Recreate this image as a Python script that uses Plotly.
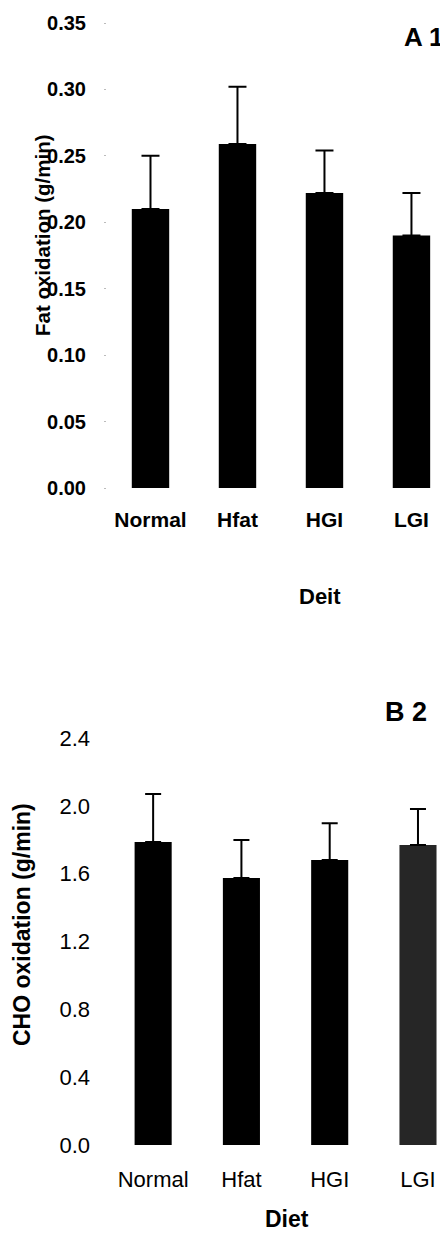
import plotly.graph_objects as go

# ---- data ----
categories = ["Normal", "Hfat", "HGI", "LGI"]
fat_mean = [0.210, 0.259, 0.222, 0.190]
fat_sem = [0.040, 0.043, 0.032, 0.032]
cho_mean = [1.787, 1.574, 1.680, 1.769]
cho_sem = [0.283, 0.224, 0.218, 0.212]
fat_ticks = [0.00, 0.05, 0.10, 0.15, 0.20, 0.25, 0.30, 0.35]
cho_ticks = [0.0, 0.4, 0.8, 1.2, 1.6, 2.0, 2.4]

# page body has an 8px default margin; compensate so the visible window matches
OFF = 8
W, H = 448 - OFF, 1236 - OFF
FONT = "Arial, 'Liberation Sans', sans-serif"

def px_y(p):
    return 1 - (p - OFF) / H

def px_x(p):
    return (p - OFF) / W

fig = go.Figure()

fig.add_trace(go.Bar(
    x=categories, y=fat_mean, xaxis="x", yaxis="y",
    marker=dict(color="#000000", line=dict(width=0)),
    width=0.43,
    error_y=dict(type="data", array=fat_sem, arrayminus=[0] * len(fat_sem),
                 symmetric=False, color="#000000", thickness=2, width=9),
    showlegend=False,
))

fig.add_trace(go.Bar(
    x=categories, y=cho_mean, xaxis="x2", yaxis="y2",
    marker=dict(color=["#000000", "#000000", "#000000", "#262626"], line=dict(width=0)),
    width=0.42,
    error_y=dict(type="data", array=cho_sem, arrayminus=[0] * len(cho_sem),
                 symmetric=False, color="#000000", thickness=2, width=8),
    showlegend=False,
))

fig.update_layout(
    width=W, height=H,
    margin=dict(l=0, r=0, t=0, b=0, pad=0, autoexpand=False),
    paper_bgcolor="white", plot_bgcolor="white",
    font=dict(family=FONT, color="#000000"),
    xaxis=dict(domain=[px_x(107), 1], range=[-0.5, 3.42], anchor="y", automargin=False,
               showline=False, showgrid=False, zeroline=False, ticks="",
               tickfont=dict(size=21, weight="bold"), ticklabelstandoff=17),
    yaxis=dict(domain=[px_y(488), px_y(23)], range=[0, 0.35], anchor="x", automargin=False,
               tickvals=fat_ticks, tickformat=".2f",
               showline=False, showgrid=False, zeroline=False,
               ticks="outside", ticklen=2, tickcolor="#bbbbbb",
               tickfont=dict(size=20, weight="bold"), ticklabelstandoff=14),
    xaxis2=dict(domain=[px_x(109), 1], range=[-0.5, 3.34], anchor="y2", automargin=False,
                showline=False, showgrid=False, zeroline=False, ticks="",
                tickfont=dict(size=22), ticklabelstandoff=19),
    yaxis2=dict(domain=[px_y(1145), px_y(738)], range=[0, 2.4], anchor="x2", automargin=False,
                tickvals=cho_ticks, tickformat=".1f",
                showline=False, showgrid=False, zeroline=False, ticks="",
                tickfont=dict(size=22), ticklabelstandoff=18),
)

ann = [
    dict(text="A 1", x=px_x(402), y=px_y(37), xanchor="left", yanchor="middle",
         font=dict(size=26, weight="bold")),
    dict(text="B 2", x=px_x(383), y=px_y(712), xanchor="left", yanchor="middle",
         font=dict(size=27, weight="bold")),
    dict(text="Fat oxidation (g/min)", x=px_x(43), y=px_y(235), textangle=-90,
         xanchor="center", yanchor="middle", font=dict(size=20.5, weight="bold")),
    dict(text="CHO oxidation (g/min)", x=px_x(22), y=px_y(925), textangle=-90,
         xanchor="center", yanchor="middle", font=dict(size=23, weight="bold")),
    dict(text="Deit", x=px_x(320), y=px_y(596), xanchor="center", yanchor="middle",
         font=dict(size=22, weight="bold")),
    dict(text="Diet", x=px_x(287), y=px_y(1219), xanchor="center", yanchor="middle",
         font=dict(size=23, weight="bold")),
]
for a in ann:
    a.update(xref="paper", yref="paper", showarrow=False)
fig.update_layout(annotations=ann)

fig.write_html("out.html")
